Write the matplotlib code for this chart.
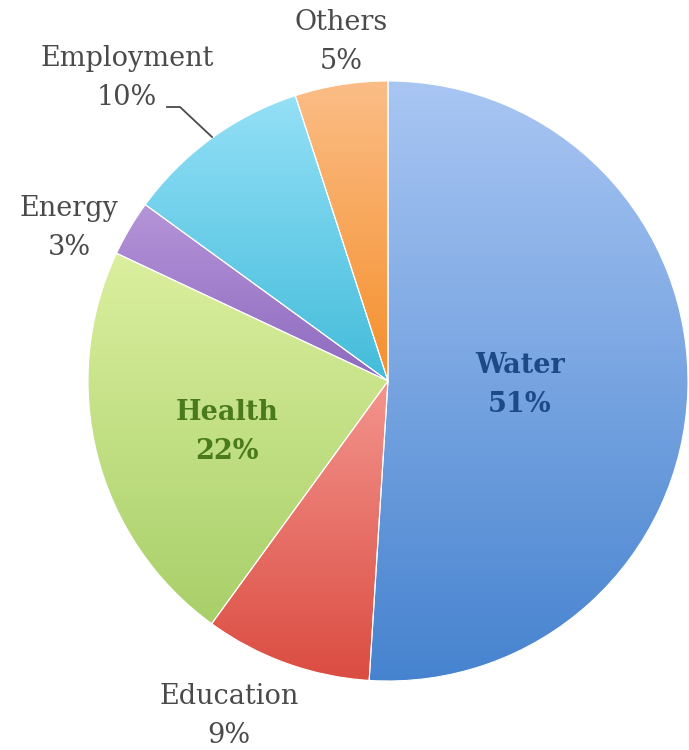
import matplotlib
matplotlib.use("Agg")
import matplotlib.pyplot as plt
import numpy as np
from matplotlib.colors import to_rgb

# --------- data ---------
labels = ["Water", "Education", "Health", "Energy", "Employment", "Others"]
shares = [51, 9, 22, 3, 10, 5]

top_colors = ["#a9c6f3", "#f3958e", "#dbef9e", "#b694d8", "#94e0f7", "#fbbd86"]
bot_colors = ["#4683cf", "#db4c41", "#a8cf69", "#8d6abf", "#43bcda", "#f58f2c"]

W, H = 689, 750
cx, cy, R = 388, H - 381, 300

fig = plt.figure(figsize=(W / 100, H / 100), dpi=100)
ax = fig.add_axes([0, 0, 1, 1])

wedges, _ = ax.pie(shares, startangle=90, counterclock=False,
                   center=(cx, cy), radius=R,
                   wedgeprops=dict(facecolor="none", edgecolor="white", linewidth=0.8))

# --------- gradient fill for every wedge ---------
for w, c1, c2 in zip(wedges, top_colors, bot_colors):
    t = np.radians(np.linspace(w.theta1, w.theta2, 100))
    xs = np.concatenate([[cx], cx + R * np.cos(t)])
    ys = np.concatenate([[cy], cy + R * np.sin(t)])
    y0, y1 = ys.min(), ys.max()
    f = np.linspace(0, 1, 256)[:, None]
    grad = (1 - f) * np.array(to_rgb(c2)) + f * np.array(to_rgb(c1))
    img = ax.imshow(grad[:, None, :], extent=(xs.min(), xs.max(), y0, y1),
                    origin="lower", aspect="auto", zorder=0.5, interpolation="bilinear")
    img.set_clip_path(w)
    w.set_zorder(1)

# --------- labels ---------
grey = "#4a4a4a"
font = "DejaVu Serif"
fs = 19.5
txt = [
    ("Water\n51%", 520, 385, "#1d4a86", "bold"),
    ("Education\n9%", 229, 716, grey, "normal"),
    ("Health\n22%", 227, 432, "#4a7a1c", "bold"),
    ("Energy\n3%", 69, 228, grey, "normal"),
    ("Employment\n10%", 127, 78, grey, "normal"),
    ("Others\n5%", 341, 42, grey, "normal"),
]
for s, x, y, col, wt in txt:
    ax.text(x, H - y, s, ha="center", va="center", fontsize=fs, color=col,
            fontweight=wt, family=font, linespacing=1.6)

# leader line for Employment
ax.plot([167, 180, 212], [H - 107, H - 107, H - 137], color=grey, lw=1.3, zorder=2)

ax.set_xlim(0, W)
ax.set_ylim(0, H)
ax.axis("off")

fig.savefig("out.png", dpi=100, facecolor="white")
